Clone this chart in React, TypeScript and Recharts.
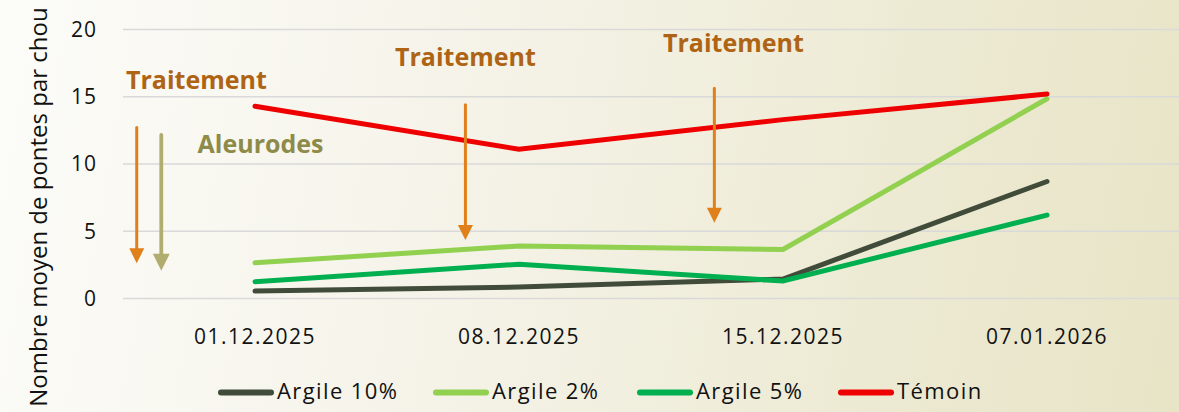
import React from 'react';
import {
  LineChart, Line, XAxis, YAxis, CartesianGrid, Legend, ReferenceLine, ReferenceDot,
} from 'recharts';

const categories = ['01.12.2025', '08.12.2025', '15.12.2025', '07.01.2026'];
const argile10 = [0.55, 0.85, 1.45, 8.7];
const argile2 = [2.65, 3.9, 3.65, 14.85];
const argile5 = [1.25, 2.55, 1.3, 6.2];
const temoin = [14.3, 11.1, 13.3, 15.2];
const yTicks = [0, 5, 10, 15, 20];

// category slots: category i sits at the middle of slot [i, i+1]
const catPos = categories.map((_, i) => i + 0.5);

// annotations placed in data units: x in category slots (0..4), y in value units
const labelTexts = ['Traitement', 'Traitement', 'Traitement', 'Aleurodes'];
const labelX = [0.278, 1.297, 2.312, 0.521];
const labelY = [15.59, 17.25, 18.36, 10.85];
const arrowX = [0.052, 0.145, 1.297, 2.24];
const arrowTop = [12.71, 12.17, 14.4, 15.64];
const arrowTip = [2.62, 2.07, 4.35, 5.64];
const arrowKind = ['t', 'a', 't', 't'];

const data = categories.map((date, i) => ({
  pos: catPos[i],
  date,
  a10: argile10[i],
  a2: argile2[i],
  a5: argile5[i],
  tem: temoin[i],
}));

const series = [
  { key: 'a10', name: 'Argile 10%', color: '#414B3A', tw: 124 },
  { key: 'a2', name: 'Argile 2%', color: '#92D050', tw: 113 },
  { key: 'a5', name: 'Argile 5%', color: '#00B050', tw: 110 },
  { key: 'tem', name: 'Témoin', color: '#EE0000', tw: 87 },
];

const FONT = "'Open Sans', 'Noto Sans', sans-serif";
const ORANGE = '#E0801A';
const OLIVE = '#B1AD6F';
const TEXT_ORANGE = '#AE6414';
const TEXT_OLIVE = '#8E8B4A';

const renderLegend = () => {
  let x = 218;
  const items = series.map((s) => {
    const x0 = x;
    x = x0 + 59 + s.tw + 32;
    return (
      <g key={s.key}>
        <line x1={x0 + 3} y1={16.5} x2={x0 + 53} y2={16.5} stroke={s.color} strokeWidth={6} strokeLinecap="round" />
        <text x={x0 + 59} y={22.5} fontSize={22} fontFamily={FONT} fill="#111" letterSpacing={1.4}>
          {s.name}
        </text>
      </g>
    );
  });
  return (
    <svg width={1179} height={30} style={{ display: 'block' }}>
      {items}
    </svg>
  );
};

const Arrow = (kind: string) => (p: any) => {
  const color = kind === 'a' ? OLIVE : ORANGE;
  const hw = kind === 'a' ? 8.5 : 7.5;
  const hl = kind === 'a' ? 17 : 15;
  const sw = kind === 'a' ? 3.8 : 3;
  const { x1, y1, x2, y2 } = p;
  return (
    <g>
      <line x1={x1} y1={y1} x2={x2} y2={y2 - hl + 2} stroke={color} strokeWidth={sw} strokeLinecap="round" />
      <polygon points={`${x2 - hw},${y2 - hl} ${x2 + hw},${y2 - hl} ${x2},${y2}`} fill={color} />
    </g>
  );
};

const LabelShape = (txt: string, color: string) => (p: any) => (
  <text x={p.cx} y={p.cy} textAnchor="middle" fontSize={25} fontWeight={700} fontFamily={FONT} fill={color}>
    {txt}
  </text>
);

const YLabel = (props: any) => {
  const vb = props.viewBox || { x: 0, y: 0, width: 123, height: 269 };
  const cx = vb.x + 47;
  const cy = vb.y + vb.height / 2 + 43;
  return (
    <text
      transform={`translate(${cx},${cy}) rotate(-90)`}
      textAnchor="middle"
      fontSize={24}
      fontFamily={FONT}
      fill="#111"
    >
      Nombre moyen de pontes par chou
    </text>
  );
};

export default function App() {
  return (
    <div
      style={{
        position: 'absolute',
        left: 0,
        top: 0,
        width: 1179,
        height: 412,
        overflow: 'hidden',
        background: 'linear-gradient(100deg, #FCFCF9 0%, #F5F3E8 40%, #EEEBD6 70%, #E8E4C6 100%)',
      }}
    >
      <LineChart width={1179} height={412} data={data} margin={{ top: 29.5, right: 0, bottom: 6, left: 0 }}>
        <CartesianGrid vertical={false} stroke="#D9D9D9" strokeWidth={1.5} />
        <XAxis
          dataKey="pos"
          type="number"
          domain={[0, 4]}
          allowDataOverflow
          ticks={catPos}
          tickFormatter={(v: number) => categories[Math.round(v - 0.5)] ?? ''}
          interval={0}
          axisLine={false}
          tickLine={false}
          tickSize={0}
          tickMargin={30.5}
          height={77.5}
          tick={{ fontSize: 21, fontFamily: FONT, fill: '#111', letterSpacing: 1.5 }}
        />
        <YAxis
          domain={[0, 20]}
          ticks={yTicks}
          width={123}
          axisLine={false}
          tickLine={false}
          tickSize={0}
          tickMargin={26}
          tick={{ fontSize: 21, fontFamily: FONT, fill: '#111', letterSpacing: 1 }}
          label={{ content: YLabel }}
        />
        <Legend verticalAlign="bottom" height={30} content={renderLegend} />
        {series.map((s) => (
          <Line
            key={s.key}
            type="linear"
            dataKey={s.key}
            name={s.name}
            stroke={s.color}
            strokeWidth={5}
            strokeLinecap="round"
            dot={false}
            activeDot={false}
            isAnimationActive={false}
          />
        ))}
        {arrowX.map((ax, i) => (
          <ReferenceLine
            key={`ar${i}`}
            segment={[{ x: ax, y: arrowTop[i] }, { x: ax, y: arrowTip[i] }]}
            ifOverflow="visible"
            shape={Arrow(arrowKind[i])}
          />
        ))}
        {labelTexts.map((t, i) => (
          <ReferenceDot
            key={`lb${i}`}
            x={labelX[i]}
            y={labelY[i]}
            r={0}
            ifOverflow="visible"
            shape={LabelShape(t, t === 'Aleurodes' ? TEXT_OLIVE : TEXT_ORANGE)}
          />
        ))}
      </LineChart>
    </div>
  );
}
